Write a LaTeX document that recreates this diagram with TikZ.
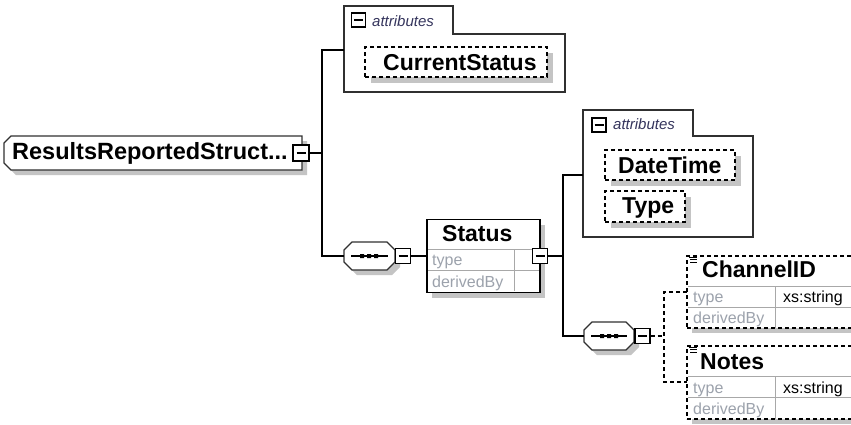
\documentclass[tikz,border=0pt]{standalone}
\usepackage{fontspec}
\setmainfont{Liberation Sans}
\definecolor{shd}{HTML}{C4C4C4}
\definecolor{rowline}{HTML}{A8A8A8}
\definecolor{faint}{HTML}{9CA2AC}
\definecolor{attrtxt}{HTML}{34345C}
\definecolor{frame}{HTML}{303030}
\tikzset{
 conn/.style={line width=1.2pt, draw=black},
 dconn/.style={conn, dash pattern=on 4pt off 3pt},
 namelbl/.style={anchor=base west, inner sep=0pt, font=\fontsize{23}{27}\selectfont\bfseries, text=black},
 faintlbl/.style={anchor=base west, inner sep=0pt, font=\fontsize{16}{19}\selectfont, text=faint},
 vallbl/.style={anchor=base west, inner sep=0pt, font=\fontsize{16}{19}\selectfont, text=black},
 tablbl/.style={anchor=base west, inner sep=0pt, font=\fontsize{15}{18}\selectfont\itshape, text=attrtxt},
 expander/.style={draw=black, fill=white, line width=1.2pt, minimum width=15pt, minimum height=15pt, inner sep=0pt,
   path picture={\draw[line width=1.2pt] ([xshift=-4.5pt]path picture bounding box.center) -- ([xshift=4.5pt]path picture bounding box.center);}},
 tabicon/.style={draw=black, line width=1.1pt, fill=white, minimum width=14pt, minimum height=14pt, inner sep=0pt,
   path picture={\draw[line width=1.1pt] ([xshift=-4.5pt]path picture bounding box.center) -- ([xshift=4.5pt]path picture bounding box.center);}},
 attrframe/.style={draw=frame, line width=1.2pt, fill=white},
 dbox/.style={draw=black, line width=1.1pt, dash pattern=on 4pt off 3pt, fill=white, inner sep=0pt},
 gridline/.style={draw=rowline, line width=1pt},
 octframe/.style={draw=frame, line width=1.2pt, fill=white},
}
\begin{document}
\begin{tikzpicture}[x=1pt,y=-1pt]
\useasboundingbox (0,0) rectangle (851,424);
\clip (0,0) rectangle (851,424);
\fill[white] (0,0) rectangle (851,424);

% ---------- root element
\fill[shd] (16,141) -- (307,141) -- (307,175) -- (16,175) -- (9,168) -- (9,148) -- cycle;
\draw[draw=frame, line width=1.3pt, fill=white] (11,136) -- (302,136) -- (302,170) -- (11,170) -- (4,163) -- (4,143) -- cycle;
\node[namelbl, font=\fontsize{23.5}{27}\selectfont\bfseries] (root) at (12,159) {ResultsReportedStruct...};
\node[expander, minimum size=16pt] (rootx) at (301,153) {};

% ---------- attributes group 1
\draw[attrframe] (344,34) -- (344,6) -- (453,6) -- (453,34) -- (565,34) -- (565,92) -- (344,92) -- cycle;
\node[tabicon] (a1icon) at (358.5,20) {};
\node[tablbl] (a1lbl) at (372,26) {attributes};
\coordinate (a1in) at (344,50);
\fill[shd] (371,53) rectangle (553,83);
\node[dbox, minimum width=182pt, minimum height=30pt] (cs) at (456,62) {};
\node[namelbl] (cslbl) at (383,70) {CurrentStatus};

% ---------- sequence 1
\begin{scope}[shift={(5,5)}]
\fill[shd] (344,250) -- (352,242) -- (387,242) -- (395,250) -- (395,262) -- (387,270) -- (352,270) -- (344,262) -- cycle;
\end{scope}
\draw[octframe] (344,250) -- (352,242) -- (387,242) -- (395,250) -- (395,262) -- (387,270) -- (352,270) -- (344,262) -- cycle;
\node[inner sep=0pt, minimum width=51pt, minimum height=28pt] (seq1) at (369.5,256) {};
\draw[line width=1.2pt] (351,256) -- (388,256);
\fill (360,254) rectangle (364,258) (367,254) rectangle (371,258) (374,254) rectangle (378,258);
\node[expander] (seq1x) at (403,256) {};

% ---------- Status
\fill[shd] (432,224.5) rectangle (545,297.5);
\node[draw=black, line width=1.2pt, fill=white, minimum width=113pt, minimum height=73pt, inner sep=0pt] (status) at (483.5,256) {};
\draw[gridline] (428,249) -- (539,249) (428,270) -- (539,270) (514,249) -- (514,291);
\node[namelbl] (statuslbl) at (442,241) {Status};
\node[faintlbl] (sttype) at (432,265) {type};
\node[faintlbl] (stder) at (432,287) {derivedBy};
\node[expander] (statusx) at (540,256) {};

% ---------- attributes group 2
\draw[attrframe] (583,136) -- (583,110) -- (693,110) -- (693,136) -- (753,136) -- (753,237) -- (583,237) -- cycle;
\node[tabicon] (a2icon) at (599,125) {};
\node[tablbl] (a2lbl) at (613,129) {attributes};
\coordinate (a2in) at (583,175);
\fill[shd] (611,156) rectangle (741,186);
\node[dbox, minimum width=130pt, minimum height=30pt] (dt) at (670,165) {};
\node[namelbl] (dtlbl) at (618,173) {DateTime};
\fill[shd] (611,197) rectangle (691,228);
\node[dbox, minimum width=80pt, minimum height=31pt] (ty) at (645,206.5) {};
\node[namelbl] (tylbl) at (622,213) {Type};

% ---------- sequence 2
\begin{scope}[shift={(5,5)}]
\fill[shd] (584,330) -- (592,322) -- (626,322) -- (634,330) -- (634,342) -- (626,350) -- (592,350) -- (584,342) -- cycle;
\end{scope}
\draw[octframe] (584,330) -- (592,322) -- (626,322) -- (634,330) -- (634,342) -- (626,350) -- (592,350) -- (584,342) -- cycle;
\node[inner sep=0pt, minimum width=50pt, minimum height=28pt] (seq2) at (609,336) {};
\draw[line width=1.2pt] (591,336) -- (627,336);
\fill (600,334) rectangle (604,338) (607,334) rectangle (611,338) (614,334) rectangle (618,338);
\node[expander] (seq2x) at (642.5,336) {};

% ---------- ChannelID
\fill[shd] (692,261) rectangle (880,333);
\node[dbox, minimum width=193pt, minimum height=72pt] (chan) at (783.5,292) {};
\draw[gridline] (688,286) -- (880,286) (688,307) -- (880,307) (775,286) -- (775,327.5);
\draw[line width=0.8pt] (689,257.5) -- (697,257.5) (690,259.7) -- (697,259.7) (690,261.9) -- (697,261.9);
\node[namelbl] (chanlbl) at (702,277) {ChannelID};
\node[faintlbl] (chtype) at (693,302) {type};
\node[vallbl] (chval) at (783,302) {xs:string};
\node[faintlbl] (chder) at (693,323) {derivedBy};

% ---------- Notes
\fill[shd] (692,351) rectangle (880,424);
\node[dbox, minimum width=193pt, minimum height=73pt] (notes) at (783.5,382.5) {};
\draw[gridline] (688,376) -- (880,376) (688,397) -- (880,397) (775,376) -- (775,418.5);
\draw[line width=0.8pt] (689,347.5) -- (697,347.5) (690,349.7) -- (697,349.7) (690,351.9) -- (697,351.9);
\node[namelbl] (noteslbl) at (700,369) {Notes};
\node[faintlbl] (nttype) at (693,393) {type};
\node[vallbl] (ntval) at (783,393) {xs:string};
\node[faintlbl] (ntder) at (693,414) {derivedBy};

% ---------- connectors
\coordinate (j1) at (322,153);
\coordinate (j2) at (563,256);
\coordinate (j3) at (664,336);
\coordinate (c1in) at (687,292);
\coordinate (c2in) at (687,382);
\draw[conn] (rootx.east) -- (j1);
\draw[conn] (a1in) -| (j1) |- (seq1.west);
\draw[conn] (seq1x.east) -- (status.west);
\draw[conn] (statusx.east) -- (j2);
\draw[conn] (a2in) -| (j2) |- (seq2.west);
\draw[dconn] (seq2x.east) -- (j3);
\draw[dconn] (c1in) -| (j3) |- (c2in);
\end{tikzpicture}
\end{document}
